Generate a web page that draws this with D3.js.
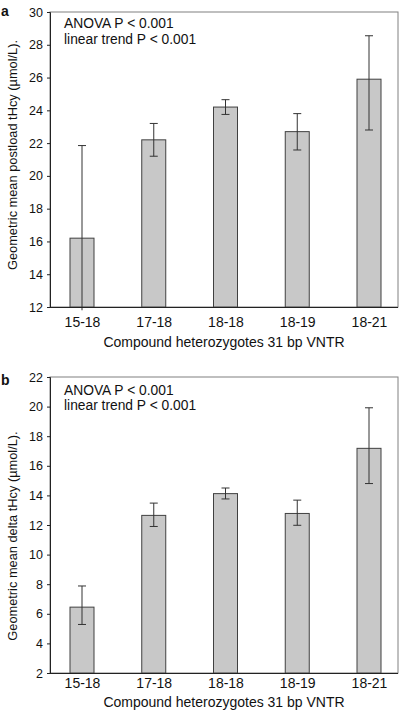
<!DOCTYPE html>
<html><head><meta charset="utf-8">
<script src="https://cdn.jsdelivr.net/npm/d3@7"></script>
<style>body{margin:0;background:#fff}svg{display:block}text{font-family:"Liberation Sans",Arial,sans-serif;fill:#111}</style>
</head><body><svg id="c" width="404" height="713"></svg>
<script>
const categories = ["15-18","17-18","18-18","18-19","18-21"];
const postloadMean  = [16.2, 22.2, 24.2, 22.7, 25.9];
const postloadUpper = [21.85, 23.2, 24.65, 23.8, 28.55];
const postloadLower = [11.8, 21.2, 23.75, 21.58, 22.8];
const deltaMean  = [6.45, 12.65, 14.12, 12.78, 17.18];
const deltaUpper = [7.88, 13.48, 14.5, 13.68, 19.92];
const deltaLower = [5.28, 11.9, 13.76, 11.98, 14.8];
const postloadTicks = [12,14,16,18,20,22,24,26,28,30];
const deltaTicks = [2,4,6,8,10,12,14,16,18,20,22];

const svg = d3.select("#c");
const L = 50, R = 398;

function panel(opt){
  const g = svg.append("g");
  const x = d3.scalePoint().domain(categories).range([82,369]);
  const y = d3.scaleLinear().domain(opt.domain).range([opt.bottom, opt.top]);
  const bw = 24;
  g.append("rect").attr("x",L).attr("y",opt.top).attr("width",R-L).attr("height",opt.bottom-opt.top)
    .attr("fill","none").attr("stroke","#808080").attr("stroke-width",1);
  g.selectAll(".bar").data(categories).join("rect")
    .attr("x",d=>x(d)-bw/2).attr("width",bw)
    .attr("y",(d,i)=>y(opt.mean[i])).attr("height",(d,i)=>y(opt.domain[0])-y(opt.mean[i]))
    .attr("fill","#c8c8c8").attr("stroke","#404040").attr("stroke-width",1);
  categories.forEach((c,i)=>{
    const cx = x(c);
    g.append("line").attr("x1",cx).attr("x2",cx).attr("y1",y(opt.upper[i])).attr("y2",y(opt.lower[i]))
      .attr("stroke","#333").attr("stroke-width",1);
    [opt.upper[i],opt.lower[i]].forEach(v=>{
      if(v>=opt.domain[0]) g.append("line").attr("x1",cx-4).attr("x2",cx+4).attr("y1",y(v)).attr("y2",y(v))
        .attr("stroke","#333").attr("stroke-width",1);
    });
  });
  const ya = g.append("g").attr("transform",`translate(${L},0)`)
    .call(d3.axisLeft(y).tickValues(opt.ticks).tickSize(3).tickPadding(4).tickFormat(d3.format("d")));
  ya.select(".domain").attr("stroke","#222");
  ya.selectAll(".tick line").attr("stroke","#222");
  ya.selectAll("text").style("font-size","12.5px").attr("fill","#111");
  const xa = g.append("g").attr("transform",`translate(0,${opt.bottom})`)
    .call(d3.axisBottom(x).tickSize(0).tickPadding(opt.xpad));
  xa.select(".domain").attr("d",`M${L},0.5H${R}`).attr("stroke","#222");
  xa.selectAll("text").style("font-size","14px").attr("fill","#111");
  g.append("text").attr("x",224).attr("y",opt.titleY).attr("text-anchor","middle")
    .style("font-size","14px").text("Compound heterozygotes 31 bp VNTR");
  g.append("text").attr("transform",`translate(17,${opt.ylabY}) rotate(-90)`)
    .attr("text-anchor","middle").style("font-size","12.8px").text(opt.ylabel);
  g.append("text").attr("x",1).attr("y",opt.letterY).style("font-size","14px").style("font-weight","bold").text(opt.letter);
  g.append("text").attr("x",64).attr("y",opt.top+opt.t1).style("font-size","13.8px").text("ANOVA P < 0.001");
  g.append("text").attr("x",64).attr("y",opt.top+opt.t2).style("font-size","13.8px").text("linear trend P < 0.001");
}

panel({letter:"a", top:12, bottom:307, domain:[12,30], ticks:postloadTicks,
  mean:postloadMean, upper:postloadUpper, lower:postloadLower, xpad:10, titleY:347, ylabY:155, letterY:16, t1:16, t2:32,
  ylabel:"Geometric mean postload tHcy (µmol/L)."});
panel({letter:"b", top:377, bottom:673, domain:[2,22], ticks:deltaTicks,
  mean:deltaMean, upper:deltaUpper, lower:deltaLower, xpad:5, titleY:707, ylabY:536, letterY:385, t1:18, t2:32.5,
  ylabel:"Geometric mean delta tHcy (µmol/L)."});
</script></body></html>
